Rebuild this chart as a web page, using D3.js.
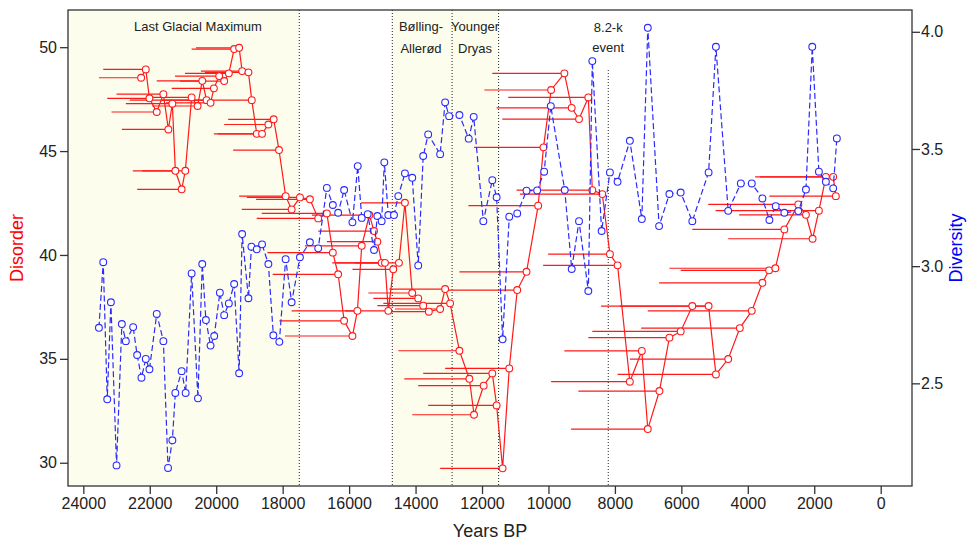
<!DOCTYPE html>
<html>
<head>
<meta charset="utf-8">
<title>Disorder and diversity through time</title>
<script src="https://cdn.jsdelivr.net/npm/d3@7"></script>
<style>
  body { margin: 0; background: #fff; }
  svg text { font-family: "Liberation Sans", Arial, sans-serif; }
</style>
</head>
<body>
<div id="chart"></div>
<script>
// red series: age (years BP), disorder, and the older end of its age range
var redYear = [
  22260,22120,22010,21790,21590,21440,21320,21230,21040,20930,
  20740,20560,20420,20290,20170,20070,19910,19760,19620,19460,
  19310,19220,19030,18930,18780,18620,18430,18270,18110,17910,
  17730,17480,17180,16930,16670,16490,16330,16150,15900,15750,
  15620,15390,15250,15150,15020,14920,14820,14670,14500,14320,
  14100,13920,13770,13600,13260,13110,12960,12680,12380,12240,
  11950,11690,11560,11380,11180,10940,10660,10310,10150,9920,
  9520,9300,9080,8800,8680,8380,8150,7920,7550,7190,
  7010,6660,6360,6020,5670,5180,4960,4590,4240,3880,
  3560,3360,3170,2900,2480,2250,2050,1860,1650,1430,1350];
var redDisorder = [
  48.53,48.93,47.54,46.88,47.74,46.04,47.28,44.05,43.16,44.05,
  47.58,47.17,48.38,47.45,47.32,48.02,48.61,48.37,48.74,49.91,
  49.97,48.85,48.79,47.45,45.83,45.83,46.28,46.53,45.05,42.83,
  42.19,42.77,42.68,41.76,42.00,40.11,39.07,36.83,36.10,37.31,
  40.44,41.92,41.15,40.64,39.62,39.62,37.31,39.31,39.62,42.51,
  38.17,37.91,37.56,37.27,37.40,38.36,37.67,35.39,34.04,32.31,
  33.71,34.30,32.76,29.73,34.54,38.31,39.19,42.37,45.18,47.94,
  48.74,47.08,46.54,47.58,43.12,42.93,40.04,39.50,33.90,35.38,
  31.62,33.45,36.02,36.32,37.54,37.54,34.25,34.99,36.48,37.31,
  38.66,39.26,39.36,41.23,42.43,41.93,40.78,42.13,43.76,43.76,42.83];
var redOldest = [
  23530,23400,23280,23150,23000,22840,22720,22510,22380,22230,
  22050,21930,21790,21630,21510,21340,21240,21090,20940,20740,
  20610,20460,20340,22600,20070,19950,19760,19640,19490,19310,
  19230,19080,18800,18780,18630,18460,18300,18100,17930,17730,
  17330,17120,16930,16670,16510,16390,16120,15900,15820,15640,
  15420,15270,15150,14770,14620,14790,14970,14520,14340,14100,
  13920,13770,13620,13260,13110,13020,12680,12410,12240,11930,
  11690,11560,11390,11210,10960,10860,10010,10160,9920,9520,
  9320,9100,8800,8680,8420,7850,7920,7550,7210,7010,
  6670,6020,6360,5670,5190,4260,4590,4970,3780,3630,3350];

// blue series: age (years BP), diversity
var blueYear = [
  23530,23400,23280,23170,23000,22840,22720,22500,22380,22250,
  22120,22010,21790,21590,21450,21320,21230,21040,20920,20740,
  20550,20420,20310,20170,20060,19890,19760,19620,19460,19310,
  19220,19030,18940,18780,18620,18430,18280,18100,17910,17730,
  17480,17180,16930,16670,16490,16330,16150,15900,15740,15620,
  15440,15250,15150,15020,14940,14820,14650,14520,14320,14100,
  13920,13770,13620,13260,13110,12990,12680,12400,12250,11960,
  11690,11560,11380,11180,10940,10660,10340,10130,9930,9510,
  9300,9080,8800,8680,8400,8150,7920,7550,7190,7010,
  6670,6360,6020,5670,5180,4960,4590,4210,3880,3560,
  3350,3160,2900,2480,2250,2060,1860,1650,1430,1320];
var blueDiversity = [
  2.737,3.017,2.432,2.846,2.150,2.753,2.680,2.740,2.621,2.524,
  2.604,2.560,2.796,2.680,2.139,2.257,2.459,2.552,2.459,2.969,
  2.436,3.009,2.770,2.661,2.702,2.887,2.791,2.841,2.924,2.543,
  3.137,2.863,3.083,3.072,3.093,3.009,2.705,2.677,3.030,2.846,
  3.038,3.102,3.076,3.334,3.261,3.228,3.325,3.187,3.427,3.206,
  3.222,3.069,3.214,3.192,3.443,3.218,3.218,3.299,3.396,3.377,
  3.003,3.470,3.562,3.478,3.699,3.640,3.645,3.544,3.637,3.192,
  3.367,3.294,2.688,3.211,3.225,3.322,3.323,3.403,3.683,3.325,
  2.988,3.192,2.894,3.875,3.150,3.400,3.360,3.535,3.201,4.017,
  3.171,3.308,3.314,3.192,3.400,3.936,3.236,3.353,3.353,3.289,
  3.197,3.256,3.228,3.235,3.327,3.936,3.403,3.360,3.332,3.545];

// climate periods (shaded) and boundaries
var periodNames = [["Last Glacial Maximum"], ["Bølling-", "Allerød"], ["Younger", "Dryas"]];
var periodStart = [null, 14700, 12900];
var periodEnd = [17500, 12900, 11500];
var boundaries = [17500, 14700, 12900, 11500];
var eventYear = 8200;
var eventLabel = ["8.2-k", "event"];

var xTicks = [24000,22000,20000,18000,16000,14000,12000,10000,8000,6000,4000,2000,0];
var leftTicks = [30,35,40,45,50];
var rightTicks = [2.5,3.0,3.5,4.0];

var W = 968, H = 541;
var margin = {top: 10, right: 56, bottom: 55, left: 68};
var x0 = margin.left, x1 = W - margin.right, y0 = H - margin.bottom, y1 = margin.top;

var x = d3.scaleLinear().domain([24461, -942]).range([x0, x1]);
var yL = d3.scaleLinear().domain([28.88, 51.79]).range([y0, y1]);
var yR = d3.scaleLinear().domain([2.062, 4.093]).range([y0, y1]);

var RED = "#ff1a1a", BLUE = "#2a2aff", AXIS = "#333";

var svg = d3.select("#chart").append("svg")
  .attr("width", W).attr("height", H);

// shaded periods
periodNames.forEach(function (n, i) {
  var a = periodStart[i] == null ? x0 : x(periodStart[i]);
  var b = x(periodEnd[i]);
  svg.append("rect")
    .attr("x", a).attr("y", y1)
    .attr("width", b - a).attr("height", y0 - y1)
    .attr("fill", "#fdfdee");
});

// boundary lines
svg.selectAll("line.bound").data(boundaries).enter().append("line")
  .attr("class", "bound")
  .attr("x1", function (d) { return x(d); }).attr("x2", function (d) { return x(d); })
  .attr("y1", y1).attr("y2", y0)
  .attr("stroke", "#222").attr("stroke-width", 1).attr("stroke-dasharray", "1,2");
svg.append("line")
  .attr("x1", x(eventYear)).attr("x2", x(eventYear))
  .attr("y1", 70).attr("y2", y0)
  .attr("stroke", "#222").attr("stroke-width", 1).attr("stroke-dasharray", "1,2");

// period labels
var labelX = [198, 421, 475];
periodNames.forEach(function (lines, i) {
  lines.forEach(function (t, j) {
    svg.append("text")
      .attr("x", labelX[i]).attr("y", 28 + j * 22)
      .attr("text-anchor", "middle").attr("dominant-baseline", "middle")
      .attr("font-size", 13).attr("fill", "#222").text(t);
  });
});
eventLabel.forEach(function (t, j) {
  svg.append("text")
    .attr("x", x(eventYear)).attr("y", 29 + j * 20)
    .attr("text-anchor", "middle").attr("dominant-baseline", "middle")
    .attr("font-size", 13).attr("fill", "#222").text(t);
});

// red series
var red = redYear.map(function (d, i) {
  return {year: d, value: redDisorder[i], oldest: redOldest[i]};
});
svg.selectAll("line.err").data(red).enter().append("line")
  .attr("class", "err")
  .attr("x1", function (d) { return x(d.oldest); })
  .attr("x2", function (d) { return x(d.year); })
  .attr("y1", function (d) { return yL(d.value); })
  .attr("y2", function (d) { return yL(d.value); })
  .attr("stroke", RED).attr("stroke-width", 1.2);
svg.append("path").datum(red)
  .attr("fill", "none").attr("stroke", RED).attr("stroke-width", 1.2)
  .attr("d", d3.line().x(function (d) { return x(d.year); }).y(function (d) { return yL(d.value); }));
svg.selectAll("circle.red").data(red).enter().append("circle")
  .attr("class", "red")
  .attr("cx", function (d) { return x(d.year); })
  .attr("cy", function (d) { return yL(d.value); })
  .attr("r", 3.4).attr("fill", "#fff").attr("stroke", RED).attr("stroke-width", 1.1);

// blue series
var blue = blueYear.map(function (d, i) { return {year: d, value: blueDiversity[i]}; });
svg.append("path").datum(blue)
  .attr("fill", "none").attr("stroke", BLUE).attr("stroke-width", 1.2)
  .attr("stroke-dasharray", "6,3")
  .attr("d", d3.line().x(function (d) { return x(d.year); }).y(function (d) { return yR(d.value); }));
svg.selectAll("circle.blue").data(blue).enter().append("circle")
  .attr("class", "blue")
  .attr("cx", function (d) { return x(d.year); })
  .attr("cy", function (d) { return yR(d.value); })
  .attr("r", 3.4).attr("fill", "#fff").attr("stroke", BLUE).attr("stroke-width", 1.1);

// frame
svg.append("rect")
  .attr("x", x0).attr("y", y1).attr("width", x1 - x0).attr("height", y0 - y1)
  .attr("fill", "none").attr("stroke", AXIS).attr("stroke-width", 1.3);

// axes
var fmt = function (d) { return d; };
var gx = svg.append("g").attr("transform", "translate(0," + y0 + ")")
  .call(d3.axisBottom(x).tickValues(xTicks).tickFormat(fmt).tickSize(8).tickSizeOuter(0).tickPadding(4));
var gl = svg.append("g").attr("transform", "translate(" + x0 + ",0)")
  .call(d3.axisLeft(yL).tickValues(leftTicks).tickFormat(fmt).tickSize(8).tickSizeOuter(0).tickPadding(3));
var gr = svg.append("g").attr("transform", "translate(" + x1 + ",0)")
  .call(d3.axisRight(yR).tickValues(rightTicks).tickFormat(d3.format(".1f")).tickSize(8).tickSizeOuter(0).tickPadding(1));
[gx, gl, gr].forEach(function (g) {
  g.select(".domain").remove();
  g.selectAll("line").attr("stroke", AXIS).attr("stroke-width", 1.3);
  g.selectAll("text").attr("font-size", 16).attr("fill", "#222")
    .style("font-family", "'Liberation Sans', Arial, sans-serif");
});

// titles
svg.append("text")
  .attr("x", (x0 + x1) / 2).attr("y", 532)
  .attr("text-anchor", "middle").attr("dominant-baseline", "middle")
  .attr("font-size", 18).attr("fill", "#222").text("Years BP");
svg.append("text")
  .attr("transform", "translate(18," + ((y0 + y1) / 2) + ") rotate(-90)")
  .attr("text-anchor", "middle").attr("dominant-baseline", "middle")
  .attr("font-size", 18).attr("fill", "#ff0000").text("Disorder");
svg.append("text")
  .attr("transform", "translate(957," + ((y0 + y1) / 2) + ") rotate(-90)")
  .attr("text-anchor", "middle").attr("dominant-baseline", "middle")
  .attr("font-size", 18).attr("fill", "#0000ff").text("Diversity");
</script>
</body>
</html>
